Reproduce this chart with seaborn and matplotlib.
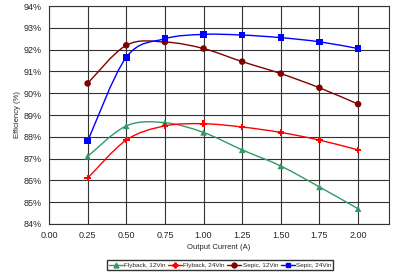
import numpy as np
import pandas as pd
import matplotlib
matplotlib.use("Agg")
import matplotlib.pyplot as plt
from matplotlib.path import Path
from matplotlib.patches import PathPatch
from matplotlib.lines import Line2D
import seaborn as sns

current = [0.25, 0.50, 0.75, 1.00, 1.25, 1.50, 1.75, 2.00]
flyback_12 = [87.1, 88.5, 88.65, 88.2, 87.4, 86.66, 85.7, 84.7]
flyback_24 = [86.1, 87.85, 88.5, 88.6, 88.45, 88.2, 87.85, 87.4]
sepic_12 = [90.45, 92.2, 92.35, 92.05, 91.45, 90.9, 90.25, 89.5]
sepic_24 = [87.8, 91.65, 92.5, 92.7, 92.67, 92.55, 92.36, 92.05]
series_names = ["Flyback, 12Vin", "Flyback, 24Vin", "Sepic, 12Vin", "Sepic, 24Vin"]
x_ticks = [0.00, 0.25, 0.50, 0.75, 1.00, 1.25, 1.50, 1.75, 2.00]
y_ticks = [84, 85, 86, 87, 88, 89, 90, 91, 92, 93, 94]

colors = ["#339966", "#FF0000", "#800000", "#0000FF"]
markers = ["^", "P", "o", "s"]

df = pd.DataFrame({
    "current": current * 4,
    "eff": flyback_12 + flyback_24 + sepic_12 + sepic_24,
    "series": sum([[n] * len(current) for n in series_names], []),
})

sns.set_style("white")
plt.rcParams["font.family"] = ["Liberation Sans", "DejaVu Sans"]

fig = plt.figure(figsize=(4, 2.75), dpi=100)
ax = fig.add_axes([0.1225, 0.1855, 0.85, 0.7925])


def smooth_path(xs, ys):
    pts = np.column_stack([xs, ys])
    verts = [pts[0]]
    codes = [Path.MOVETO]
    n = len(pts)
    for i in range(n - 1):
        p0 = pts[i - 1] if i > 0 else pts[i]
        p1 = pts[i]
        p2 = pts[i + 1]
        p3 = pts[i + 2] if i + 2 < n else pts[i + 1]
        c1 = p1 + (p2 - p0) / 6.0
        c2 = p2 - (p3 - p1) / 6.0
        verts += [c1, c2, p2]
        codes += [Path.CURVE4] * 3
    return Path(verts, codes)


for name, c in zip(series_names, colors):
    sub = df[df.series == name]
    ax.add_patch(PathPatch(smooth_path(sub.current.values, sub.eff.values),
                           facecolor="none", edgecolor=c, lw=1.0, zorder=3))

sns.scatterplot(data=df, x="current", y="eff", hue="series", style="series",
                palette=colors, markers=markers, hue_order=series_names,
                style_order=series_names, s=22, edgecolor="none",
                legend=False, ax=ax, zorder=4)

ax.set_xlim(0, 2.2)
ax.set_ylim(84, 94)
ax.set_xticks(x_ticks)
ax.set_xticklabels([f"{v:.2f}" for v in x_ticks], fontsize=6.5)
ax.set_yticks(y_ticks)
ax.set_yticklabels([f"{v}%" for v in y_ticks], fontsize=6.5)
ax.grid(True, color="#333333", lw=0.8)
for s in ax.spines.values():
    s.set_color("#333333")
    s.set_linewidth(0.8)
ax.tick_params(axis="both", length=3, width=0.8, color="#333333", pad=2)
ax.set_xlabel("Output Current (A)", fontsize=5.5, labelpad=3)
ax.set_ylabel("Efficiency (%)", fontsize=5.5, labelpad=2)

handles = [Line2D([0], [0], color=c, marker=m, markersize=3.5, lw=1.0)
           for c, m in zip(colors, markers)]
fig.legend(handles, series_names, loc="center", bbox_to_anchor=(0.55, 0.036),
           ncol=4, fontsize=4.6, frameon=True, fancybox=False, edgecolor="black",
           handlelength=2.2, handletextpad=0.2, columnspacing=0.4,
           borderpad=0.3)

fig.savefig("out.png", dpi=100, facecolor="white")
